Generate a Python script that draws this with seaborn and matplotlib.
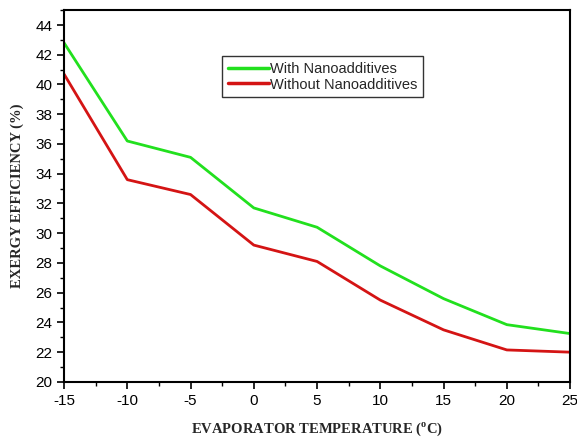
import numpy as np
import pandas as pd
import matplotlib
matplotlib.use("Agg")
import matplotlib.pyplot as plt
import seaborn as sns
from matplotlib.ticker import MultipleLocator

# Evaporator temperature (°C) and exergy efficiency (%) for each refrigerant case
temperature = [-15, -10, -5, 0, 5, 10, 15, 20, 25]
with_nano = [42.8, 36.2, 35.1, 31.7, 30.4, 27.8, 25.6, 23.85, 23.25]
without_nano = [40.7, 33.6, 32.6, 29.2, 28.1, 25.5, 23.5, 22.15, 22.0]
series_names = ["With Nanoadditives", "Without Nanoadditives"]
series_colors = ["#22e01e", "#d41414"]

df = pd.DataFrame({
    "temp": temperature * 2,
    "eff": with_nano + without_nano,
    "case": [series_names[0]] * len(temperature) + [series_names[1]] * len(temperature),
})

sns.set_theme(style="white")
plt.rcParams["font.family"] = ["Liberation Sans", "DejaVu Sans"]
plt.rcParams["axes.unicode_minus"] = False
plt.rcParams["mathtext.fontset"] = "custom"
plt.rcParams["mathtext.rm"] = "Liberation Serif:bold"

fig = plt.figure(figsize=(5.77, 4.41), dpi=100)
ax = fig.add_axes([0.111, 0.134, 0.877, 0.843])

sns.lineplot(data=df, x="temp", y="eff", hue="case", hue_order=series_names,
             palette=series_colors, linewidth=2.0, ax=ax)

ax.set_xlim(-15, 25)
ax.set_ylim(20, 45)
ax.xaxis.set_major_locator(MultipleLocator(5))
ax.xaxis.set_minor_locator(MultipleLocator(2.5))
ax.yaxis.set_minor_locator(MultipleLocator(1))
ax.set_yticks(np.arange(20, 45, 2))
ax.tick_params(axis="both", which="major", direction="out", length=5, width=1.2,
               colors="black", labelsize=11, bottom=True, left=True, top=False, right=False)
ax.tick_params(axis="both", which="minor", direction="out", length=3, width=1.0,
               colors="black", bottom=True, left=True, top=False, right=False)
for sp in ax.spines.values():
    sp.set_color("black")
    sp.set_linewidth(1.5)

label_font = dict(family="Liberation Serif", fontweight="bold", fontsize=10.5)
ax.set_xlabel(r"EVAPORATOR TEMPERATURE ($^{\rm o}$C)", labelpad=9, **label_font)
ax.set_ylabel("EXERGY EFFICIENCY (%)", labelpad=8, **label_font)

leg = ax.legend(loc="upper left", bbox_to_anchor=(0.312, 0.876), borderaxespad=0,
                frameon=True, fancybox=False, edgecolor="black", fontsize=10.5,
                handlelength=2.8, handletextpad=0.1, borderpad=0.4, labelspacing=0.1)
leg.get_frame().set_linewidth(1.0)
for line in leg.get_lines():
    line.set_linewidth(2.5)

fig.savefig("out.png", dpi=100, facecolor="white")
